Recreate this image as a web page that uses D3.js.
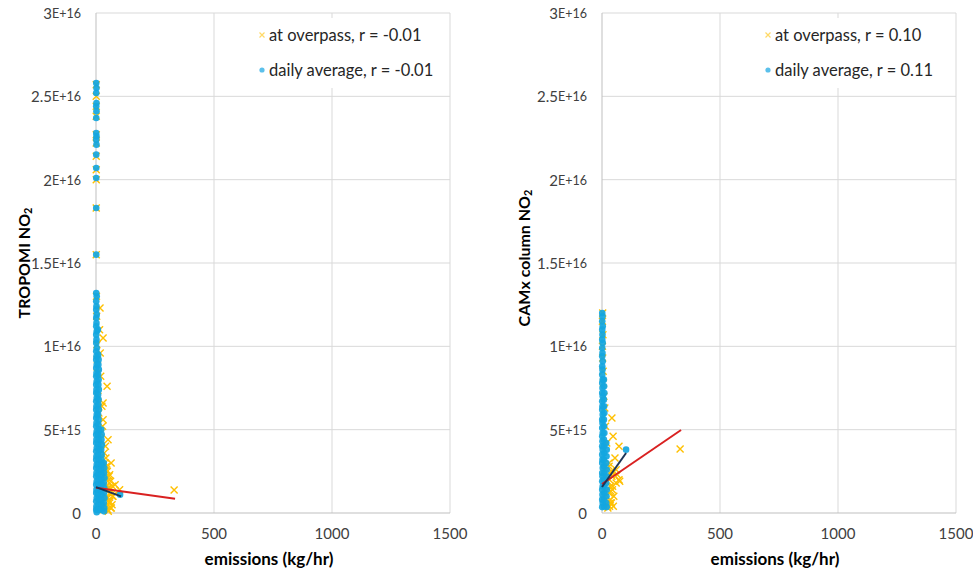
<!DOCTYPE html>
<html>
<head>
<meta charset="utf-8">
<script src="https://cdn.jsdelivr.net/npm/d3@7"></script>
<style>
	body { margin: 0; background: #fff; }
	svg { display: block; }
	text { font-family: Lato, 'Open Sans', sans-serif; }
</style>
</head>
<body>
<svg id="chart" width="973" height="569"></svg>
<script>
// axis ticks (y values are in units of 1E15)
const xTicks = [0, 500, 1000, 1500]
const yTicks = [0, 5, 10, 15, 20, 25, 30]
const yTickLabels = [['0', ''], ['5', 'E+15'], ['1', 'E+16'], ['1.5', 'E+16'], ['2', 'E+16'], ['2.5', 'E+16'], ['3', 'E+16']]

// left panel: TROPOMI NO2 vs emissions, [kg/hr, NO2 / 1E15]
const leftOverpass = [
	[1, 25.7], [1, 25.0], [1, 24.4], [1, 23.8], [1, 22.7], [1, 22.2], [1, 21.4], [1, 20.6], [1, 20.0], [1, 18.3], [1, 15.5],
	[2, 13.0], [17, 12.3], [3, 11.8], [30, 10.5], [4, 10.1], [6, 9.2], [5, 8.4], [47, 7.6], [30, 6.6], [8, 7.0],
	[30, 5.6], [12, 6.0], [51, 4.4], [20, 4.8], [64, 3.0], [35, 3.6], [81, 1.7], [45, 2.6], [40, 2.1], [55, 2.2],
	[50, 1.5], [60, 1.2], [70, 1.0], [45, 0.9], [58, 0.6], [40, 0.4], [65, 0.3], [50, 0.2], [30, 0.2], [25, 1.2],
	[15, 11.0], [18, 9.6], [20, 8.2], [25, 6.4], [28, 5.2], [40, 4.0], [42, 3.3], [38, 3.0],
	[44, 2.8], [48, 2.5], [46, 2.2], [50, 1.9], [47, 1.6], [52, 1.3], [45, 1.0], [50, 0.7], [47, 0.4], [52, 0.1],
	[58, 2.3], [62, 1.9], [56, 1.5], [64, 1.1], [58, 0.7], [62, 0.3], [70, 1.6], [72, 1.0], [68, 0.5],
	[100, 1.4], [331, 1.38]
]
const leftDaily = [
	[1, 25.8], [2, 25.5], [1, 25.2], [2, 24.6], [1, 24.4], [2, 24.1], [1, 23.7], [1, 22.8], [2, 22.6], [1, 22.4],
	[2, 22.1], [1, 21.5], [1, 20.7], [1, 20.1], [1, 18.3], [1, 15.5],
	[1, 13.2], [3, 13.0], [1, 12.7], [2, 12.4], [1, 12.2], [3, 11.9], [1, 11.7], [2, 11.4], [1, 11.2], [3, 10.9],
	[1, 10.7], [2, 10.4], [1, 10.2], [3, 9.9], [1, 9.7], [2, 9.4], [1, 9.2], [3, 8.9], [1, 8.7], [2, 8.4],
	[1, 8.2], [3, 7.9], [1, 7.7], [2, 7.4], [1, 7.2], [3, 6.9], [1, 6.7], [2, 6.4], [1, 6.2], [3, 5.9],
	[1, 5.7], [2, 5.4], [1, 5.2], [3, 4.9], [1, 4.7], [2, 4.4], [1, 4.2], [3, 3.9], [1, 3.7], [2, 3.4],
	[1, 3.2], [3, 2.9], [1, 2.7], [2, 2.4], [1, 2.2], [3, 1.9], [1, 1.7], [2, 1.4], [1, 1.2], [3, 0.9],
	[1, 0.7], [2, 0.4], [1, 0.2], [3, 0.05],
	[8, 11.0], [9, 9.5], [11, 9.2], [10, 8.9], [12, 8.6], [9, 8.3], [11, 8.0], [10, 7.7], [12, 7.4], [9, 7.1],
	[11, 6.8], [10, 6.5], [12, 6.2], [9, 5.9], [11, 5.6], [10, 5.3], [12, 5.0], [9, 4.7], [11, 4.4], [10, 4.1],
	[12, 3.8], [9, 3.5], [11, 3.2], [10, 2.9], [12, 2.6], [9, 2.3], [11, 2.0], [10, 1.7], [12, 1.4], [9, 1.1],
	[11, 0.8], [10, 0.5], [12, 0.2],
	[22, 5.0], [24, 4.7], [23, 4.4], [25, 4.1], [22, 3.8], [24, 3.5], [23, 3.2], [25, 2.9], [22, 2.6], [24, 2.3],
	[23, 2.0], [25, 1.7], [22, 1.4], [24, 1.1], [23, 0.8], [25, 0.5], [22, 0.2],
	[33, 3.0], [35, 2.7], [34, 2.4], [36, 2.1], [33, 1.8], [35, 1.5], [34, 1.2], [36, 0.9], [33, 0.6], [35, 0.3], [34, 0.1],
	[102, 1.1]
]
const leftFitOverpass = [[0, 1.52], [335, 0.86]]
const leftFitDaily = [[0, 1.55], [106, 1.0]]

// right panel: CAMx column NO2 vs emissions
const rightOverpass = [
	[3, 12.0], [2, 11.5], [4, 10.7], [2, 10.0], [3, 9.3], [5, 8.5], [6, 7.8], [8, 7.0], [12, 6.3], [42, 5.7],
	[15, 5.2], [47, 4.6], [72, 4.0], [20, 4.2], [55, 3.3], [30, 3.0], [72, 2.0], [40, 2.5], [45, 1.6], [50, 1.0],
	[35, 0.6], [48, 0.4], [25, 0.3], [38, 1.3], [60, 2.6], [60, 1.8], [75, 1.9], [65, 2.3],
	[30, 2.8], [34, 2.4], [32, 2.0], [36, 1.6], [30, 1.2], [35, 0.8], [32, 0.4], [42, 2.2], [44, 1.4], [40, 0.6],
	[331, 3.84]
]
const rightDaily = [
	[1, 12.0], [2, 11.8], [1, 11.5], [3, 11.2], [1, 11.0], [2, 10.7], [1, 10.4], [3, 10.2], [1, 9.9], [2, 9.6],
	[1, 9.4], [3, 9.1], [1, 8.8], [2, 8.6], [1, 8.3], [3, 8.0], [1, 7.8], [2, 7.5], [1, 7.2], [3, 7.0],
	[1, 6.7], [2, 6.4], [1, 6.2], [3, 5.9], [1, 5.6], [2, 5.4], [1, 5.1], [3, 4.8], [1, 4.6], [2, 4.3],
	[1, 4.0], [3, 3.8], [1, 3.5], [2, 3.2], [1, 3.0], [3, 2.7], [1, 2.4], [2, 2.2], [1, 1.9], [3, 1.6],
	[1, 1.4], [2, 1.1], [1, 0.8], [3, 0.6], [1, 0.35],
	[8, 8.0], [9, 7.6], [10, 7.2], [8, 6.8], [9, 6.4], [10, 6.0], [8, 5.6], [9, 5.2], [10, 4.8], [8, 4.4],
	[9, 4.0], [10, 3.6], [8, 3.2], [9, 2.8], [10, 2.4], [8, 2.0], [9, 1.6], [10, 1.2], [8, 0.8], [9, 0.4],
	[18, 4.2], [20, 3.8], [19, 3.4], [18, 3.0], [20, 2.6], [19, 2.2], [18, 1.8], [20, 1.4], [19, 1.0], [18, 0.6], [20, 0.35],
	[102, 3.8]
]
const rightFitOverpass = [[0, 1.74], [335, 4.98]]
const rightFitDaily = [[0, 1.56], [102, 3.6]]

const svg = d3.select('#chart')
const gridColor = '#d9d9d9'
const yellow = '#ffc000'
const blue = '#14a6e0'

function drawPanel(p) {
	const x = d3.scaleLinear().domain([0, 1500]).range([p.left, p.right])
	const y = d3.scaleLinear().domain([0, 30]).range([p.bottom, p.top])
	const g = svg.append('g')

	//grid lines
	g.selectAll(null).data(yTicks.slice(1)).enter().append('line')
		.attr('x1', p.left).attr('x2', p.right).attr('y1', d => y(d)).attr('y2', d => y(d))
		.attr('stroke', gridColor).attr('stroke-width', 1)
	g.selectAll(null).data(xTicks.slice(1)).enter().append('line')
		.attr('x1', d => x(d)).attr('x2', d => x(d)).attr('y1', p.top).attr('y2', p.bottom)
		.attr('stroke', gridColor).attr('stroke-width', 1)

	//legend background hides the grid behind it
	g.append('rect').attr('x', p.legendX - 14).attr('y', p.top + 5)
		.attr('width', p.right - 4 - (p.legendX - 14)).attr('height', 70).attr('fill', '#fff')

	//axis lines
	g.append('line').attr('x1', p.left).attr('x2', p.right).attr('y1', y(0)).attr('y2', y(0))
		.attr('stroke', '#bfbfbf')
	g.append('line').attr('x1', x(0)).attr('x2', x(0)).attr('y1', p.top).attr('y2', p.bottom)
		.attr('stroke', '#bfbfbf')

	//tick labels
	const yl = g.selectAll(null).data(yTicks).enter().append('text')
		.attr('x', p.left - 15).attr('y', d => y(d)).attr('text-anchor', 'end')
		.attr('dominant-baseline', 'central').attr('fill', '#404040').style('font-size', '15px')
	yl.append('tspan').text((d, i) => yTickLabels[i][0])
	yl.append('tspan').style('font-size', '12.5px').text((d, i) => yTickLabels[i][1])

	g.selectAll(null).data(xTicks).enter().append('text')
		.attr('x', d => x(d)).attr('y', 533).attr('text-anchor', 'middle')
		.attr('dominant-baseline', 'central').attr('fill', '#404040').style('font-size', '15px')
		.text(d => d)

	//axis titles
	g.append('text').attr('x', (x(0) + x(1500)) / 2 - 4).attr('y', 558)
		.attr('text-anchor', 'middle').attr('dominant-baseline', 'central')
		.style('font-size', '17px').style('font-weight', 'bold').attr('fill', '#000')
		.text('emissions (kg/hr)')

	const yt = g.append('text').attr('transform', 'translate(' + p.yTitleX + ',' + p.yTitleY + ') rotate(-90)')
		.attr('text-anchor', 'middle').attr('dominant-baseline', 'central')
		.style('font-size', '16px').style('font-weight', 'bold').attr('fill', '#000')
	yt.append('tspan').text(p.yTitle)
	yt.append('tspan').attr('dy', 4).style('font-size', '11px').text('2')

	//at overpass markers
	const cross = 'M-3.5,-3.5L3.5,3.5M-3.5,3.5L3.5,-3.5'
	g.selectAll(null).data(p.overpass).enter().append('path')
		.attr('transform', d => 'translate(' + x(d[0]) + ',' + y(d[1]) + ')')
		.attr('d', cross).attr('stroke', yellow).attr('stroke-width', 1.4).attr('fill', 'none')

	//daily average dots
	g.selectAll(null).data(p.daily).enter().append('circle')
		.attr('cx', d => x(d[0])).attr('cy', d => y(d[1])).attr('r', 3.3)
		.attr('fill', blue).attr('fill-opacity', 0.92)

	//fit lines
	const line = d3.line().x(d => x(d[0])).y(d => y(d[1]))
	g.append('path').attr('d', line(p.fitOverpass)).attr('stroke', '#d92121').attr('stroke-width', 2).attr('fill', 'none')
	g.append('path').attr('d', line(p.fitDaily)).attr('stroke', '#1d3557').attr('stroke-width', 2).attr('fill', 'none')

	//legend
	g.append('path').attr('transform', 'translate(' + p.legendX + ',' + 35 + ')')
		.attr('d', 'M-2.5,-2.5L2.5,2.5M-2.5,2.5L2.5,-2.5').attr('stroke', '#ffd966').attr('stroke-width', 1.2)
	g.append('circle').attr('cx', p.legendX).attr('cy', 70).attr('r', 2.6).attr('fill', '#5bc0eb')
	g.append('text').attr('x', p.legendX + 7).attr('y', 35).attr('dominant-baseline', 'central')
		.style('font-size', '16.5px').attr('fill', '#262626').text(p.legend[0])
	g.append('text').attr('x', p.legendX + 7).attr('y', 70).attr('dominant-baseline', 'central')
		.style('font-size', '16.5px').attr('fill', '#262626').text(p.legend[1])
}

drawPanel({
	left: 96, right: 450, top: 13, bottom: 513,
	yTitle: 'TROPOMI NO', yTitleX: 23, yTitleY: 263,
	legendX: 262, legend: ['at overpass, r = -0.01', 'daily average, r = -0.01'],
	overpass: leftOverpass, daily: leftDaily, fitOverpass: leftFitOverpass, fitDaily: leftFitDaily
})

drawPanel({
	left: 602, right: 956, top: 13, bottom: 513,
	yTitle: 'CAMx column  NO', yTitleX: 523, yTitleY: 258,
	legendX: 768, legend: ['at overpass, r = 0.10', 'daily average, r = 0.11'],
	overpass: rightOverpass, daily: rightDaily, fitOverpass: rightFitOverpass, fitDaily: rightFitDaily
})
</script>
</body>
</html>
